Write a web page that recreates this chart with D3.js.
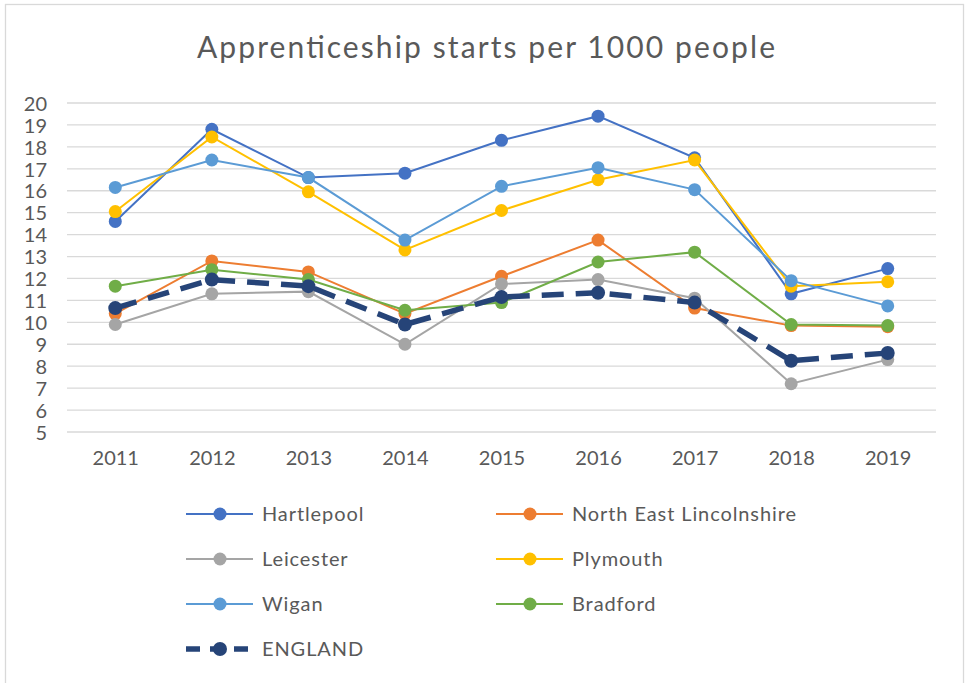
<!DOCTYPE html>
<head>
    <meta charset="utf-8">
    <style>
        body { margin: 0; background: #fff; }
        text { font-family: Lato, "Open Sans", sans-serif; fill: #595959; }
        .grid line { stroke: #d9d9d9; stroke-width: 1.3; }
    </style>
</head>
<svg width="965" height="683" class="line-chart"></svg>
<script src="https://cdn.jsdelivr.net/npm/d3@7/dist/d3.min.js"></script>
<script>
    const years = ['2011', '2012', '2013', '2014', '2015', '2016', '2017', '2018', '2019'];
    const yTicks = [5, 6, 7, 8, 9, 10, 11, 12, 13, 14, 15, 16, 17, 18, 19, 20];

    const hartlepool = [14.6, 18.8, 16.6, 16.8, 18.3, 19.4, 17.5, 11.3, 12.45];
    const neLincolnshire = [10.4, 12.8, 12.3, 10.4, 12.1, 13.75, 10.65, 9.85, 9.8];
    const leicester = [9.9, 11.3, 11.4, 9.0, 11.75, 11.95, 11.1, 7.2, 8.3];
    const plymouth = [15.05, 18.45, 15.95, 13.3, 15.1, 16.5, 17.4, 11.65, 11.85];
    const wigan = [16.15, 17.4, 16.6, 13.75, 16.2, 17.05, 16.05, 11.9, 10.75];
    const bradford = [11.65, 12.4, 11.95, 10.55, 10.9, 12.75, 13.2, 9.9, 9.85];
    const england = [10.65, 11.95, 11.65, 9.9, 11.15, 11.35, 10.9, 8.25, 8.6];

    const series = [
        {name: 'Hartlepool', values: hartlepool, color: '#4472c4'},
        {name: 'North East Lincolnshire', values: neLincolnshire, color: '#ed7d31'},
        {name: 'Leicester', values: leicester, color: '#a5a5a5'},
        {name: 'Plymouth', values: plymouth, color: '#ffc000'},
        {name: 'Wigan', values: wigan, color: '#5b9bd5'},
        {name: 'Bradford', values: bradford, color: '#70ad47'},
        {name: 'ENGLAND', values: england, color: '#264478', dashed: true}
    ];

    var svg = d3.select(".line-chart");

    // chart frame
    svg.append("rect")
            .attr("x", 5.5).attr("y", 4.5)
            .attr("width", 958).attr("height", 690)
            .attr("fill", "#fff")
            .attr("stroke", "#d9d9d9")
            .attr("stroke-width", 1.3);

    svg.append("text")
            .attr("x", 197).attr("y", 58)
            .attr("textLength", 578)
            .attr("lengthAdjust", "spacing")
            .style("font-size", "30px")
            .text("Apprenticeship starts per 1000 people");

    var x = d3.scalePoint().domain(years).range([67, 936]).padding(0.5),
            y = d3.scaleLinear().domain([5, 20]).range([432, 103]);

    svg.append("g")
            .attr("class", "grid")
            .selectAll("line")
            .data(yTicks)
            .enter().append("line")
            .attr("x1", 67).attr("x2", 936)
            .attr("y1", function(d) { return y(d); })
            .attr("y2", function(d) { return y(d); });

    var yAxis = svg.append("g")
            .attr("transform", "translate(47,0)")
            .call(d3.axisLeft(y).tickValues(yTicks).tickSize(0).tickPadding(0));
    yAxis.select(".domain").remove();
    yAxis.selectAll("text").style("font-size", "20px").attr("dy", "0.36em");

    var xAxis = svg.append("g")
            .attr("transform", "translate(0,451)")
            .call(d3.axisBottom(x).tickSize(0).tickPadding(0));
    xAxis.select(".domain").remove();
    xAxis.selectAll("text").style("font-size", "20px").attr("dy", "0.71em");

    var line = d3.line()
            .x(function(d, i) { return x(years[i]); })
            .y(function(d) { return y(d); });

    var g = svg.append("g");

    series.forEach(function(s) {
        g.append("path")
                .datum(s.values)
                .attr("fill", "none")
                .attr("stroke", s.color)
                .attr("stroke-width", s.dashed ? 5.5 : 2)
                .attr("stroke-dasharray", s.dashed ? "22,12" : null)
                .attr("d", line);
        g.selectAll(null)
                .data(s.values)
                .enter().append("circle")
                .attr("cx", function(d, i) { return x(years[i]); })
                .attr("cy", function(d) { return y(d); })
                .attr("r", s.dashed ? 7 : 6.5)
                .attr("fill", s.color);
    });

    // legend
    var legend = svg.append("g");
    series.forEach(function(s, i) {
        var lx = i % 2 === 0 ? 186 : 496,
                ly = 514 + Math.floor(i / 2) * 45;
        var item = legend.append("g").attr("transform", "translate(" + lx + "," + ly + ")");
        item.append("line")
                .attr("x1", 0).attr("x2", 67)
                .attr("y1", 0).attr("y2", 0)
                .attr("stroke", s.color)
                .attr("stroke-width", s.dashed ? 5.5 : 2)
                .attr("stroke-dasharray", s.dashed ? "14,10" : null);
        item.append("circle")
                .attr("cx", 34).attr("cy", 0)
                .attr("r", s.dashed ? 7 : 6.5)
                .attr("fill", s.color);
        item.append("text")
                .attr("x", 76).attr("y", 0)
                .attr("dy", "0.36em")
                .style("font-size", "20px")
                .style("letter-spacing", "0.9px")
                .text(s.name);
    });
</script>
